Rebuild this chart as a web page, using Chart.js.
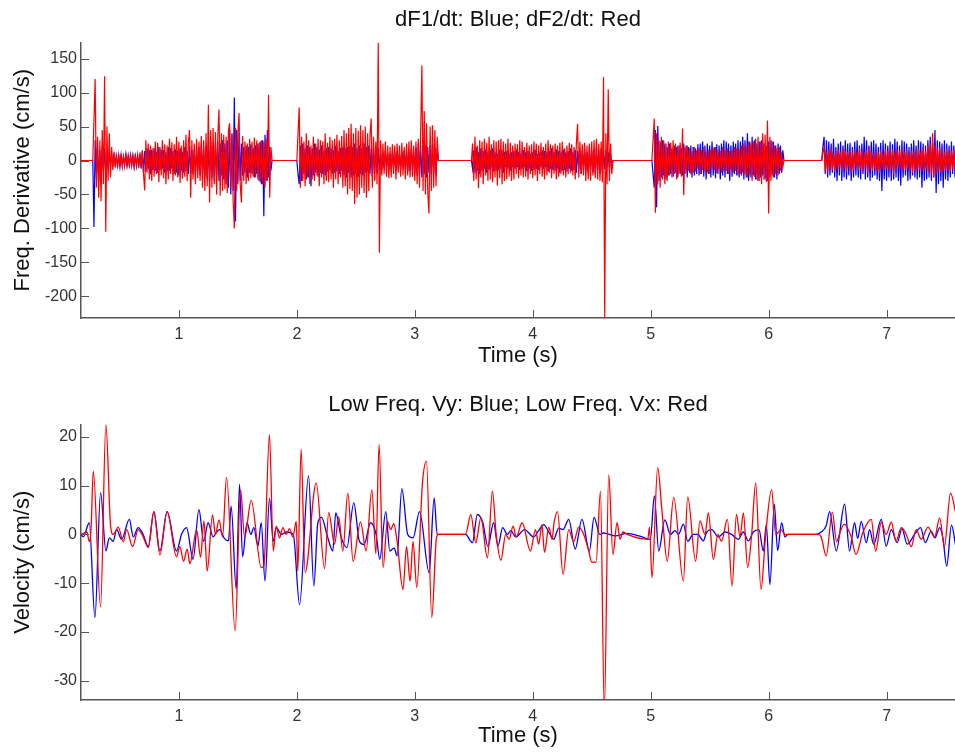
<!DOCTYPE html>
<html>
<head>
<meta charset="utf-8">
<script src="https://cdn.jsdelivr.net/npm/chart.js@4.4.1/dist/chart.umd.min.js"></script>
<style>
  body { margin: 0; background: #fff; }
  canvas { display: block; }
</style>
</head>
<body>
<canvas id="topChart" width="955" height="376"></canvas>
<canvas id="botChart" width="955" height="377"></canvas>
<script>
// x range and ticks (seconds)
const xMin = 0.17
const xMax = 7.58
const xTicks = [1, 2, 3, 4, 5, 6, 7]

// ---- top plot: dF/dt, sampled every 0.01 s inside each voiced segment
const segStart = [0.27, 2.0, 3.48, 5.01, 6.45]
const step = 0.01
const topTicks = [-200, -150, -100, -50, 0, 50, 100, 150]

const dF1_A = [0,-98,30,-25,20,-30,15,-35,22,-15,
  18,-20,12,-10,10,-8,9,-7,8,-6,
  7,-8,6,-9,8,-7,5,-6,9,-8,
  6,-7,8,-6,7,-9,6,-8,7,-6,
  9,-12,15,-18,14,-16,18,-12,15,-20,
  16,-14,18,-15,12,-18,20,-14,16,-12,
  15,-18,12,-16,20,-15,18,-12,14,-20,
  16,-18,14,-22,18,-15,12,-18,20,-16,
  14,-20,22,-18,15,-20,16,-22,18,-15,
  20,-22,25,-20,18,-25,22,-28,25,-30,
  28,-25,22,-30,25,-22,28,-30,25,-22,
  30,-28,25,-35,30,-40,45,-50,40,-45,
  93,-90,45,-35,40,-30,25,-22,20,-18,
  22,-25,20,-18,24,-20,18,-25,22,-20,
  25,-30,28,-35,30,-82,38,-30,45,-25,
  20,-15,0]
const dF2_A = [0,60,120,-40,35,-55,30,-60,45,-35,
  124,-105,50,-30,40,-25,20,-14,12,-10,
  9,-11,8,-7,10,-9,6,-8,11,-6,
  7,-10,9,-8,6,-9,10,-7,8,-11,
  12,-9,14,-20,-44,30,-18,25,-28,22,
  -30,18,-24,28,-20,26,-32,20,-22,30,
  -26,24,-35,22,-28,32,-20,27,-30,24,
  -22,35,-25,28,-33,22,-27,30,-24,38,
  -30,26,45,-55,30,-28,25,-35,32,-26,
  28,-30,36,-40,30,-45,40,-38,82,-62,
  45,-40,48,-35,42,-50,38,75,-52,40,
  -45,38,-42,35,-48,44,55,-40,38,-60,
  -100,48,-45,40,70,-35,-62,36,-30,28,
  -35,25,-30,32,-26,28,-24,34,-25,30,
  -28,26,-32,30,-35,28,-40,32,-30,97,
  -55,20,0]

const dF1_B = [0,-20,-35,22,-30,25,-20,18,-28,22,
  -25,20,-38,18,-22,25,-18,20,-24,16,
  -18,22,-20,15,-22,18,-16,20,-14,18,
  -20,15,-18,22,-16,14,-20,18,-15,20,
  -22,18,-25,20,-18,22,-25,20,-22,25,
  -20,18,-24,22,-20,18,-22,25,-18,20,
  -16,22,-20,18,-24,20,-18,22,-20,18,
  -15,12,-14,10,-12,15,-10,12,-14,10,
  -12,14,-10,12,-15,14,-12,10,-14,12,
  -10,15,-12,14,-16,12,-15,18,-14,16,
  -18,20,-22,25,-20,22,-25,18,-20,22,
  -25,20,-18,22,-20,25,-18,20,-22,18,
  0]
const dF2_B = [0,40,78,-40,35,-30,28,-38,40,-25,
  30,-35,22,-28,35,-30,25,-22,32,-38,
  30,-25,28,-35,40,-30,26,-32,35,-28,
  30,-40,32,-28,38,-35,30,-25,36,-40,
  45,-38,40,-50,48,-42,54,-45,40,-64,
  48,-55,44,-50,52,-40,45,-48,50,-55,
  40,-45,38,62,-40,35,-30,28,-35,174,
  -136,30,-22,25,-20,28,-24,22,-26,20,
  -25,24,-20,22,-28,25,-18,22,-24,26,
  -22,20,-28,25,-22,28,-25,30,-24,22,
  -30,28,-35,32,-40,45,140,-45,73,-50,
  55,-48,-78,50,-45,52,-40,45,-38,35,
  0]

const dF1_C = [0,-12,15,-18,20,-15,12,-20,18,-15,
  14,-12,16,-18,12,-14,15,-10,18,-16,
  12,-15,10,-14,16,-12,15,-18,12,-10,
  14,-12,10,-15,12,-10,14,-12,16,-10,
  12,-14,10,-12,15,-10,12,-16,14,-12,
  10,-15,12,-14,16,-12,10,-14,12,-10,
  15,-12,14,-10,12,-16,14,-12,18,-14,
  12,-15,16,-12,14,-18,12,-15,16,-14,
  12,-16,14,-12,18,-15,12,-14,16,-18,
  14,-12,16,-20,15,-14,18,-16,12,-18,
  20,-15,14,-18,16,-20,18,-14,15,-20,
  18,-16,15,-12,14,-10,12,-14,10,-8,
  0]
const dF2_C = [0,25,-30,35,-28,22,-41,30,-25,28,
  -35,32,-22,26,-30,35,-28,24,-32,30,
  -25,28,-37,30,-26,32,-35,28,-30,25,
  -28,32,-24,26,-30,22,-28,25,-20,24,
  -26,30,-22,28,-25,20,-24,26,-28,22,
  -20,24,-26,28,-22,25,-30,22,-20,26,
  -24,20,-28,25,-22,30,-18,24,-26,22,
  -20,25,-28,22,-24,26,-20,28,-22,18,
  -25,22,-20,26,-18,24,-22,20,-28,25,
  54,-25,28,-20,24,-22,26,-30,22,-28,
  25,-30,28,-22,30,-26,32,-28,25,-30,
  28,-32,123,-235,40,-35,105,-30,25,-20,
  0]

const dF1_D = [0,-20,-40,45,-69,51,-30,28,-25,30,
  -22,25,-28,20,-22,25,-20,18,-24,22,
  -18,20,-25,22,-20,18,-22,25,-20,22,
  -25,20,-18,22,-25,20,-22,18,-20,24,
  -22,25,-20,28,-24,22,-28,25,-20,22,
  -25,28,-22,20,-26,24,-20,22,-28,25,
  -22,30,-25,28,-20,25,-30,22,-24,28,
  -20,25,-22,30,-25,28,-22,35,-28,30,
  -25,40,-30,28,-25,35,-22,30,-28,25,
  -30,28,-25,30,-22,25,-28,22,-30,28,
  -25,30,-22,28,-25,22,-28,25,-20,22,
  -18,15,0]
const dF2_D = [0,30,62,-77,40,-35,30,-40,35,-28,
  30,-35,25,-30,28,-22,26,-25,30,-20,
  25,-28,22,-20,26,-24,47,-51,20,-18,
  22,-15,18,-20,14,-18,20,-16,15,-12,
  18,-20,15,-14,20,-16,12,-18,15,-20,
  16,-12,18,-14,20,-18,15,-12,14,-18,
  20,-16,12,-15,18,-20,14,-12,16,-18,
  20,-15,18,-22,16,-20,22,-18,25,-20,
  22,-25,28,-22,25,-30,28,-24,32,-28,
  35,-30,28,-35,40,-28,38,-32,59,-78,
  35,-30,28,-25,22,-20,18,-22,20,-15,
  12,-10,0]

const dF1_E = [0,20,35,-20,30,-25,28,-22,25,-18,
  32,-25,20,-30,25,-22,28,-30,22,-25,
  30,-28,25,-22,26,-30,20,-25,28,-22,
  30,-25,22,-28,25,-20,35,-28,30,-25,
  22,-30,28,-25,30,-22,25,-28,20,-30,
  26,-45,30,-28,25,-30,22,-25,28,-30,
  24,-28,32,-25,28,-30,22,-37,30,-25,
  28,-22,25,-30,20,-28,25,-22,30,-25,
  22,-28,30,-25,28,-40,25,-30,22,-28,
  30,-25,35,-30,28,-25,45,-48,30,-35,
  28,-30,25,-40,30,-28,25,-30,22,-25,
  28,-20,22,-25,20]
const dF2_E = [0,12,20,-15,12,-18,15,-12,18,-14,
  10,-16,14,-12,16,-10,12,-15,18,-12,
  14,-16,12,-10,15,-18,12,-14,16,-10,
  12,-15,18,-12,14,-16,12,-10,15,-18,
  20,-14,12,-15,10,-12,14,-16,12,-18,
  15,-12,10,-14,16,-12,14,-15,18,-12,
  15,-20,12,-14,16,-10,14,-12,18,-15,
  12,-14,16,-12,10,-15,14,-18,12,-16,
  15,-12,18,-14,12,-16,20,-15,14,-12,
  22,-18,25,-20,40,-25,22,-20,18,-15,
  20,-18,15,-16,12,-14,18,-15,12,-16,
  14,-12,16,-14,12]

// ---- bottom plot: low freq velocities, peaks and troughs
const botTicks = [-30, -20, -10, 0, 10, 20]

const vyT = [0.17,0.189,0.24,0.288,0.336,0.381,0.41,0.443,0.472,0.514,0.58,0.613,0.655,0.697,0.74,0.788,0.839,0.90,0.98,
  1.022,1.065,1.12,1.17,1.21,1.248,1.29,1.32,1.345,1.385,1.42,1.443,1.486,1.514,1.54,1.577,1.61,1.635,1.67,1.698,1.73,1.768,1.80,1.825,1.87,1.91,1.97,
  2.023,2.099,2.144,2.178,2.21,2.257,2.305,2.33,2.375,2.424,2.483,2.53,2.57,2.625,2.672,2.703,2.754,2.788,2.825,2.85,2.89,2.94,2.986,
  3.04,3.122,3.164,3.19,3.43,3.489,3.53,3.577,3.62,3.668,3.705,3.745,3.785,3.814,3.856,3.93,
  4.008,4.05,4.093,4.136,4.178,4.22,4.257,4.305,4.36,4.417,4.48,4.52,4.568,4.60,4.70,4.80,4.90,4.997,
  5.031,5.068,5.12,5.167,5.206,5.235,5.277,5.314,5.36,5.40,5.446,5.475,5.517,5.574,5.63,5.686,5.743,5.785,5.828,5.87,5.918,5.955,5.98,
  6.011,6.048,6.076,6.11,6.138,6.165,6.40,6.445,6.488,6.517,6.573,6.644,6.686,6.728,6.755,6.785,6.828,6.856,6.89,6.955,6.996,
  7.04,7.09,7.13,7.175,7.237,7.288,7.328,7.378,7.41,7.45,7.477,7.51,7.55,7.59]
const vy = [0,-0.5,2.4,-17.1,8.6,-3.4,-0.7,-1.4,1,-1,3.1,-0.5,1.4,0,-2.5,4.7,-3.4,4.7,-3.4,
  0,1.4,-5.1,5.1,-1.4,2.4,-0.5,0.5,1,-0.8,-1.3,5.8,-11.3,10.3,-4.6,2.4,0,1.4,-2.4,2.4,-9.6,7.4,-1.4,1.4,0,0.5,0,
  -14.4,12,-10.6,2.4,3.5,-0.2,-3.4,4.4,-0.5,-2.7,6.5,-1.4,-2.1,2.4,0,-5.1,4.7,-3.4,-2.8,-4.4,9.4,0,-0.7,
  4.7,-7.9,7.5,0,0,-1.7,4.1,2.4,-2.5,2.4,-2.4,1.4,0,0.8,-0.5,1,
  -0.5,0.8,2,0.5,-1,1.3,1,3.1,-3,3.1,-3.4,3.5,0,0.3,-0.3,0.2,-0.3,-1,
  7.9,-3.4,3,0,0.8,0,2.1,-1.4,0,0,-1.3,0.5,1,-0.5,0.5,0,-1,0.5,-1.3,0.5,1,-3.4,2,
  -10.3,6.2,-3.3,2.4,-0.5,0,0,0.5,1.8,4.7,-3.4,6.2,-3.4,2.4,-0.8,2.7,-1.7,1,-2,3.1,-2.4,
  1,-1.7,1.2,-2,0,1.4,-1.7,0.7,-0.7,1.4,-0.7,-6.5,1.9,-3]

const vxT = [0.17,0.22,0.24,0.255,0.274,0.336,0.381,0.42,0.443,0.486,0.528,0.557,0.607,0.655,0.697,0.74,0.788,0.839,0.90,0.98,
  1.008,1.04,1.07,1.093,1.15,1.184,1.212,1.24,1.285,1.31,1.34,1.37,1.404,1.477,1.523,1.557,1.613,1.698,1.72,1.768,1.80,1.825,1.853,1.881,1.91,1.938,1.966,1.995,
  2.008,2.036,2.07,2.164,2.235,2.27,2.32,2.355,2.39,2.432,2.477,2.54,2.587,2.636,2.67,2.697,2.731,2.768,2.795,2.822,2.85,2.90,2.93,2.96,2.985,
  3.017,3.065,3.099,3.144,3.184,3.20,3.43,3.475,3.517,3.56,3.616,3.658,3.69,3.73,3.771,3.80,3.833,3.86,3.91,3.98,
  4.023,4.05,4.078,4.099,4.136,4.164,4.18,4.21,4.257,4.305,4.347,4.39,4.432,4.475,4.50,4.537,4.574,4.607,4.644,4.68,4.715,4.74,4.765,4.80,4.975,4.99,
  5.011,5.059,5.096,5.14,5.195,5.277,5.314,5.381,5.418,5.46,5.489,5.531,5.57,5.60,5.65,5.69,5.727,5.757,5.786,5.822,5.856,5.89,5.935,5.975,
  6.025,6.06,6.105,6.14,6.42,6.445,6.488,6.54,6.576,6.60,6.64,6.70,6.74,6.80,6.87,6.907,6.955,6.996,
  7.04,7.08,7.125,7.167,7.21,7.25,7.294,7.35,7.407,7.45,7.49,7.542,7.59]
const vx = [0,0.5,-1.5,1,13,-14.9,22.6,2,0,1.5,-1.5,1,-2.5,1,-0.5,-2.7,4.7,-4.2,4.7,-4.6,
  -2.5,-5.5,-3,-6,1,-4.7,2.8,-7.5,4,0,3,-0.5,11.7,-19.8,9.2,-0.6,7,-6.8,-6.5,20.5,-3.4,1.7,-0.7,1.4,0,1.2,-0.5,2.7,
  -7.5,17.5,-7.8,10.6,-7,4.5,-2,3.6,-3.4,8.5,-5.5,2.6,-3.4,9.2,-4,18.5,-6.8,2.7,1,2.2,-1.4,-11.3,-2.5,-9.6,-1.5,
  -10.9,10.6,15,-17.1,-0.6,0,0,4.1,-1.7,3.4,-4.8,8.9,0,-5.3,0,-1,1.7,-0.5,2.4,-3.4,
  1,-2,2,-3.7,1.5,-1,2.3,4.7,-8.2,1,-1.5,1.5,0,-3.4,-5.7,-5.7,8.9,-36,12.3,-4.1,2.4,-1,0.5,0,-1,1.5,
  -8.9,13.7,4.7,-5.5,7.6,-9.6,7.7,-5.5,2.8,0,4.4,-5.1,0,-1.4,3.1,-10.6,4.1,-0.5,4.4,-6.8,0,10.6,-11.3,0,
  9.2,0,1,0,0,-0.5,-4.4,4.6,-1.5,0,2.1,-0.5,-4.1,0.5,3.1,-3.4,2.5,0,
  2.5,-1.4,1.4,0,-2.5,1,-1,1.5,-0.5,3.4,-2.5,8.5,4]

const blue = '#0000ff'
const red = '#ff0000'
const axisColor = '#555555'
const fontName = '"Liberation Sans", Arial, sans-serif'

function segPoints(segs) {
  var pts = [{x: xMin, y: 0}]
  segs.forEach(function(vals, k) {
    vals.forEach(function(v, i) {
      pts.push({x: segStart[k] + i * step, y: v})
    })
  })
  return pts
}

function pairPoints(ts, vs) {
  return ts.map(function(t, i) { return {x: t, y: vs[i]} })
}

// MATLAB style ticks pointing into the axes
const inwardTicks = {
  id: 'inwardTicks',
  afterDatasetsDraw(chart) {
    const ctx = chart.ctx
    const a = chart.chartArea
    ctx.save()
    ctx.strokeStyle = axisColor
    ctx.lineWidth = 1
    chart.scales.x.ticks.forEach(function(t) {
      var px = Math.round(chart.scales.x.getPixelForValue(t.value)) + 0.5
      ctx.beginPath()
      ctx.moveTo(px, a.bottom)
      ctx.lineTo(px, a.bottom - 8)
      ctx.stroke()
    })
    chart.scales.y.ticks.forEach(function(t) {
      var py = Math.round(chart.scales.y.getPixelForValue(t.value)) + 0.5
      ctx.beginPath()
      ctx.moveTo(a.left, py)
      ctx.lineTo(a.left + 8, py)
      ctx.stroke()
    })
    ctx.restore()
  }
}

function makeChart(id, opts) {
  // chart.js paints dataset 0 last, so red goes first to sit on top like in matlab
  return new Chart(id, {
    type: 'line',
    data: {
      datasets: [{
        data: opts.red,
        borderColor: red,
        borderWidth: opts.lw,
        pointRadius: 0,
        cubicInterpolationMode: opts.smooth ? 'monotone' : 'default',
        tension: 0
      }, {
        data: opts.blue,
        borderColor: blue,
        borderWidth: opts.lw,
        pointRadius: 0,
        cubicInterpolationMode: opts.smooth ? 'monotone' : 'default',
        tension: 0
      }]
    },
    options: {
      responsive: false,
      animation: false,
      events: [],
      layout: { padding: { left: 0, right: 0, top: 0, bottom: 0 } },
      plugins: {
        legend: { display: false },
        tooltip: { enabled: false },
        title: {
          display: true,
          text: opts.title,
          fullSize: false,
          color: '#111',
          font: { family: fontName, size: 22, weight: 'normal' },
          padding: opts.titlePad
        }
      },
      scales: {
        x: {
          type: 'linear',
          min: xMin,
          max: xMax,
          afterBuildTicks: function(s) { s.ticks = xTicks.map(function(v) { return {value: v} }) },
          afterFit: function(s) { s.height = opts.xh },
          grid: { display: false, drawTicks: false },
          border: { display: true, color: axisColor, width: 1.5 },
          ticks: { color: '#333', padding: 7, maxRotation: 0, font: { family: fontName, size: 16 } },
          title: {
            display: true,
            text: 'Time (s)',
            color: '#111',
            font: { family: fontName, size: 22 },
            padding: { top: 0, bottom: opts.xTitleBottom }
          }
        },
        y: {
          min: opts.ymin,
          max: opts.ymax,
          afterBuildTicks: function(s) { s.ticks = opts.yticks.map(function(v) { return {value: v} }) },
          afterFit: function(s) { s.width = 81 },
          grid: { display: false, drawTicks: false },
          border: { display: true, color: axisColor, width: 1.5 },
          ticks: { color: '#333', padding: 4, font: { family: fontName, size: 16 } },
          title: {
            display: true,
            text: opts.ytitle,
            color: '#111',
            font: { family: fontName, size: 22 },
            padding: { top: 10, bottom: 0 }
          }
        }
      }
    },
    plugins: [inwardTicks]
  })
}

makeChart('topChart', {
  title: 'dF1/dt: Blue; dF2/dt: Red',
  titlePad: { top: 7, bottom: 9 },
  ytitle: 'Freq. Derivative (cm/s)',
  ymin: -232, ymax: 174,
  yticks: topTicks,
  xh: 58,
  xTitleBottom: 7,
  lw: 1.2,
  smooth: false,
  blue: segPoints([dF1_A, dF1_B, dF1_C, dF1_D, dF1_E]),
  red: segPoints([dF2_A, dF2_B, dF2_C, dF2_D, dF2_E])
})

makeChart('botChart', {
  title: 'Low Freq. Vy: Blue; Low Freq. Vx: Red',
  titlePad: { top: 16, bottom: 6 },
  ytitle: 'Velocity (cm/s)',
  ymin: -34, ymax: 22.6,
  yticks: botTicks,
  xh: 53,
  xTitleBottom: 4,
  lw: 1.3,
  smooth: true,
  blue: pairPoints(vyT, vy),
  red: pairPoints(vxT, vx)
})
</script>
</body>
</html>
